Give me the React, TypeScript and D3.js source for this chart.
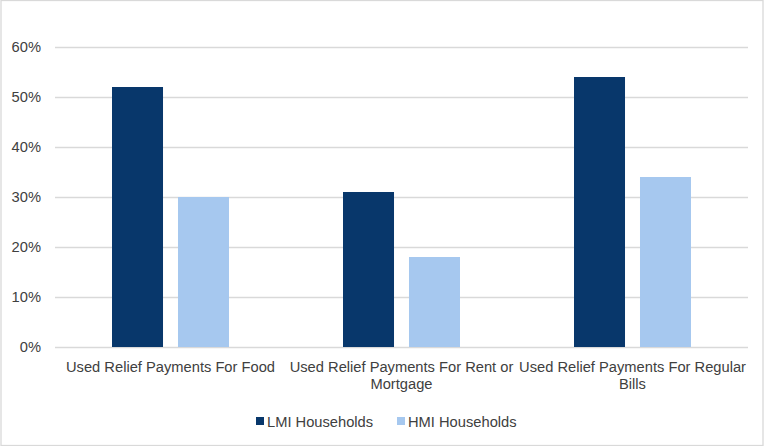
import React, { useEffect, useRef } from "react";
import * as d3 from "d3";

const categories = [
  "Used Relief Payments For Food",
  "Used Relief Payments For Rent or Mortgage",
  "Used Relief Payments For Regular Bills",
];
const seriesNames = ["LMI Households", "HMI Households"];
const lmiValues = [0.52, 0.31, 0.54];
const hmiValues = [0.3, 0.18, 0.34];
const yTicks = [0, 0.1, 0.2, 0.3, 0.4, 0.5, 0.6];
const colors = ["#08376b", "#a6c8ef"];

const W = 768;
const H = 446;
const FONT = "'Liberation Sans', Arial, sans-serif";
const FS = 14.7;

export default function App() {
  const ref = useRef<SVGSVGElement | null>(null);

  useEffect(() => {
    const svg = d3.select(ref.current);
    svg.selectAll("*").remove();

    const m = { left: 55, right: 20, top: 47, bottom: 99 };
    const x0 = d3.scaleBand().domain(categories).range([m.left, W - m.right]);
    const x1 = d3
      .scaleBand()
      .domain(seriesNames)
      .range([0, x0.bandwidth()])
      .paddingInner(0.227)
      .paddingOuter(0.864);
    const y = d3.scaleLinear().domain([0, 0.6]).range([H - m.bottom, m.top]);

    svg
      .append("rect")
      .attr("x", 1)
      .attr("y", 0.5)
      .attr("width", 762)
      .attr("height", 445)
      .attr("fill", "#fff")
      .attr("stroke", "#d9d9d9")
      .attr("stroke-width", 1.3);

    const g = svg.append("g");
    g.selectAll("line.grid")
      .data(yTicks)
      .join("line")
      .attr("x1", m.left)
      .attr("x2", W - m.right)
      .attr("y1", (d) => Math.round(y(d)) + 0.5)
      .attr("y2", (d) => Math.round(y(d)) + 0.5)
      .attr("stroke", "#d9d9d9")
      .attr("stroke-width", 1.3);

    g.selectAll("text.ytick")
      .data(yTicks)
      .join("text")
      .attr("x", 41)
      .attr("y", (d) => y(d) + 5)
      .attr("text-anchor", "end")
      .attr("font-family", FONT)
      .attr("font-size", FS)
      .attr("fill", "#404040")
      .text((d) => d3.format(".0%")(d));

    const data = categories.map((c, i) => ({ c, vals: [lmiValues[i], hmiValues[i]] }));
    const groups = g
      .selectAll("g.cat")
      .data(data)
      .join("g")
      .attr("transform", (d) => `translate(${x0(d.c)},0)`);
    groups
      .selectAll("rect")
      .data((d) => d.vals.map((v, j) => ({ v, s: seriesNames[j], j })))
      .join("rect")
      .attr("x", (d) => x1(d.s)!)
      .attr("width", x1.bandwidth())
      .attr("y", (d) => y(d.v))
      .attr("height", (d) => y(0) - y(d.v))
      .attr("fill", (d) => colors[d.j]);

    // category labels with wrapping
    const bw = x0.bandwidth();
    categories.forEach((c) => {
      const cx = x0(c)! + bw / 2;
      const t = g
        .append("text")
        .attr("text-anchor", "middle")
        .attr("font-family", FONT)
        .attr("font-size", FS)
        .attr("fill", "#404040");
      const words = c.split(" ");
      let line: string[] = [];
      let lineNo = 0;
      let tspan = t.append("tspan").attr("x", cx).attr("y", 372);
      for (const w of words) {
        line.push(w);
        tspan.text(line.join(" "));
        if ((tspan.node() as SVGTSpanElement).getComputedTextLength() > bw - 1 && line.length > 1) {
          line.pop();
          tspan.text(line.join(" "));
          line = [w];
          lineNo++;
          tspan = t.append("tspan").attr("x", cx).attr("y", 372 + lineNo * 17).text(w);
        }
      }
    });

    // legend
    const legend = [
      { name: seriesNames[0], x: 256, color: colors[0] },
      { name: seriesNames[1], x: 397, color: colors[1] },
    ];
    legend.forEach((l) => {
      svg
        .append("rect")
        .attr("x", l.x)
        .attr("y", 417)
        .attr("width", 8)
        .attr("height", 8)
        .attr("fill", l.color);
      svg
        .append("text")
        .attr("x", l.x + 11)
        .attr("y", 427)
        .attr("font-family", FONT)
        .attr("font-size", FS)
        .attr("fill", "#404040")
        .text(l.name);
    });
  }, []);

  return (
    <div style={{ position: "absolute", left: 0, top: 0 }}>
      <svg ref={ref} width={W} height={H} style={{ display: "block" }} />
    </div>
  );
}
